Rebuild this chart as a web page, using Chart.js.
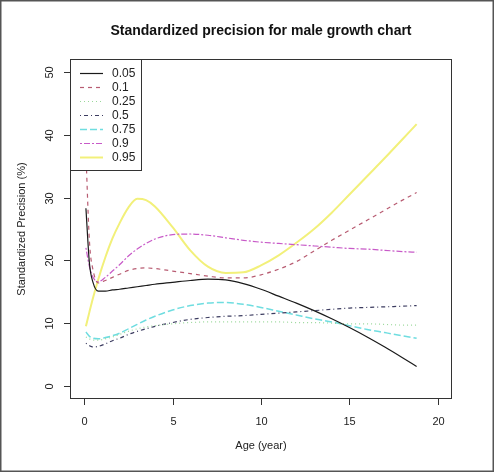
<!DOCTYPE html>
<html>
<head>
  <title>Standardized precision for male growth chart</title>
  <script src="https://cdn.jsdelivr.net/npm/chart.js"></script>
  <style>
    body { margin: 0; background: #fff; }
    #wrap { width: 494px; height: 472px; }
  </style>
</head>
<body>
  <div id="wrap"><canvas id="precChart" width="494" height="472"></canvas></div>

  <script>
    const ages = [0.1, 0.3, 0.5, 0.8, 1.2, 1.6, 2, 2.5, 3, 3.5, 4, 5, 6, 7, 8, 9, 10, 11, 12, 13, 14, 15, 16, 17, 18, 18.8];

    const q05 = [28.3, 19.5, 16.5, 15.1, 15.1, 15.3, 15.4, 15.6, 15.8, 16.0, 16.2, 16.5, 16.8, 17.0, 16.9, 16.3, 15.4, 14.3, 13.2, 12.0, 10.7, 9.3, 7.8, 6.2, 4.5, 3.1];
    const q10 = [37.0, 23.0, 18.5, 16.4, 16.8, 17.3, 17.8, 18.4, 18.7, 18.8, 18.7, 18.3, 17.9, 17.5, 17.2, 17.2, 17.7, 18.6, 19.8, 21.5, 23.2, 24.8, 26.4, 28.0, 29.6, 30.8];
    const q25 = [7.8, 7.5, 7.3, 7.3, 7.5, 7.8, 8.2, 8.7, 9.1, 9.4, 9.6, 9.9, 10.1, 10.2, 10.2, 10.2, 10.2, 10.2, 10.1, 10.1, 10.0, 9.9, 9.9, 9.8, 9.7, 9.7];
    const q50 = [6.8, 6.4, 6.2, 6.3, 6.7, 7.2, 7.6, 8.2, 8.7, 9.1, 9.5, 10.1, 10.6, 10.9, 11.1, 11.2, 11.4, 11.6, 11.8, 12.0, 12.2, 12.4, 12.5, 12.6, 12.7, 12.8];
    const q75 = [8.6, 7.9, 7.6, 7.5, 7.7, 8.0, 8.4, 9.1, 9.8, 10.5, 11.1, 12.1, 12.8, 13.2, 13.3, 13.0, 12.5, 11.9, 11.3, 10.7, 10.2, 9.6, 9.0, 8.5, 8.0, 7.6];
    const q90 = [22.0, 19.0, 17.3, 16.6, 17.3, 18.3, 19.3, 20.7, 21.8, 22.7, 23.4, 24.1, 24.2, 24.0, 23.6, 23.2, 22.9, 22.7, 22.5, 22.3, 22.1, 21.9, 21.8, 21.6, 21.4, 21.3];
    const q95 = [9.5, 11.8, 14.0, 17.0, 20.5, 23.5, 25.9, 28.4, 29.8, 29.6, 28.6, 25.3, 21.6, 19.0, 18.0, 18.1, 19.2, 20.8, 22.8, 25.0, 27.6, 30.5, 33.4, 36.3, 39.3, 41.7];

    const seriesLabels = ['0.05', '0.1', '0.25', '0.5', '0.75', '0.9', '0.95'];
    const seriesValues = [q05, q10, q25, q50, q75, q90, q95];

    const xTicks = [0, 5, 10, 15, 20];
    const yTicks = [0, 10, 20, 30, 40, 50];

    const colors = ['#1a1a1a', '#b85c72', '#9ad89a', '#3c3c60', '#6fdde0', '#c85ac8', '#f2f07a'];
    const dashes = [[], [4, 4], [1, 3], [1, 3, 4, 3], [7, 3], [2, 2, 6, 2], []];
    const widths = [1.2, 1.2, 1.2, 1.2, 1.5, 1.2, 2];

    const FONT = '"Liberation Sans", Arial, sans-serif';

    const datasets = seriesLabels.map((lab, i) => ({
      label: lab,
      data: ages.map((a, j) => ({ x: a, y: seriesValues[i][j] })),
      borderColor: colors[i],
      borderDash: dashes[i],
      borderWidth: widths[i],
      pointRadius: 0,
      fill: false,
      tension: 0.4,
      cubicInterpolationMode: 'monotone'
    }));

    const rDecor = {
      id: 'rDecor',
      afterDatasetsDraw(chart) {
        const ctx = chart.ctx;
        const a = chart.chartArea;
        const xs = chart.scales.x, ys = chart.scales.y;
        ctx.save();
        ctx.strokeStyle = '#333';
        ctx.fillStyle = '#222';
        ctx.lineWidth = 1;

        // plot box
        ctx.strokeRect(a.left + 0.5, a.top + 0.5, a.right - a.left - 1, a.bottom - a.top - 1);

        // x ticks
        ctx.font = '11px ' + FONT;
        ctx.textAlign = 'center';
        ctx.textBaseline = 'middle';
        xTicks.forEach(v => {
          const px = Math.round(xs.getPixelForValue(v)) + 0.5;
          ctx.beginPath();
          ctx.moveTo(px, a.bottom);
          ctx.lineTo(px, a.bottom + 6);
          ctx.stroke();
          ctx.fillText(String(v), px, a.bottom + 23);
        });

        // y ticks, labels rotated as in R
        yTicks.forEach(v => {
          const py = Math.round(ys.getPixelForValue(v)) + 0.5;
          ctx.beginPath();
          ctx.moveTo(a.left, py);
          ctx.lineTo(a.left - 6, py);
          ctx.stroke();
          ctx.save();
          ctx.translate(a.left - 20, py);
          ctx.rotate(-Math.PI / 2);
          ctx.fillText(String(v), 0, 0);
          ctx.restore();
        });

        // axis titles
        const cx = (a.left + a.right) / 2;
        const cy = (a.top + a.bottom) / 2;
        ctx.fillText('Age (year)', cx, a.bottom + 47);
        ctx.save();
        ctx.translate(22, cy);
        ctx.rotate(-Math.PI / 2);
        ctx.fillText('Standardized Precision (%)', 0, 0);
        ctx.restore();

        // main title
        ctx.font = 'bold 14px ' + FONT;
        ctx.fillStyle = '#111';
        ctx.fillText('Standardized precision for male growth chart', cx, 31);

        // legend box
        const lx = a.left, ly = a.top, lw = 71, lh = 111;
        ctx.fillStyle = '#fff';
        ctx.fillRect(lx, ly, lw, lh);
        ctx.strokeStyle = '#333';
        ctx.strokeRect(lx + 0.5, ly + 0.5, lw, lh);
        ctx.font = '12px ' + FONT;
        ctx.textAlign = 'left';
        seriesLabels.forEach((lab, i) => {
          const y = ly + 14 + i * 14;
          ctx.strokeStyle = colors[i];
          ctx.lineWidth = widths[i];
          ctx.setLineDash(dashes[i]);
          ctx.beginPath();
          ctx.moveTo(lx + 10, y + 0.5);
          ctx.lineTo(lx + 33, y + 0.5);
          ctx.stroke();
          ctx.setLineDash([]);
          ctx.fillStyle = '#222';
          ctx.fillText(lab, lx + 42, y + 1);
        });

        // outer frame of the picture
        ctx.strokeStyle = '#555';
        ctx.lineWidth = 1.5;
        ctx.strokeRect(0.75, 0.75, chart.width - 1.5, chart.height - 1.5);
        ctx.restore();
      }
    };

    const ctx = document.getElementById('precChart').getContext('2d');
    const chart = new Chart(ctx, {
      type: 'line',
      data: { datasets: datasets },
      options: {
        responsive: false,
        animation: false,
        layout: { padding: { left: 70, top: 59, right: 42, bottom: 73 } },
        plugins: {
          legend: { display: false },
          tooltip: { enabled: false },
          title: { display: false }
        },
        scales: {
          x: { type: 'linear', min: -0.8, max: 20.8, display: false },
          y: { type: 'linear', min: -2.08, max: 52.08, display: false }
        }
      },
      plugins: [rDecor]
    });
  </script>
</body>
</html>
